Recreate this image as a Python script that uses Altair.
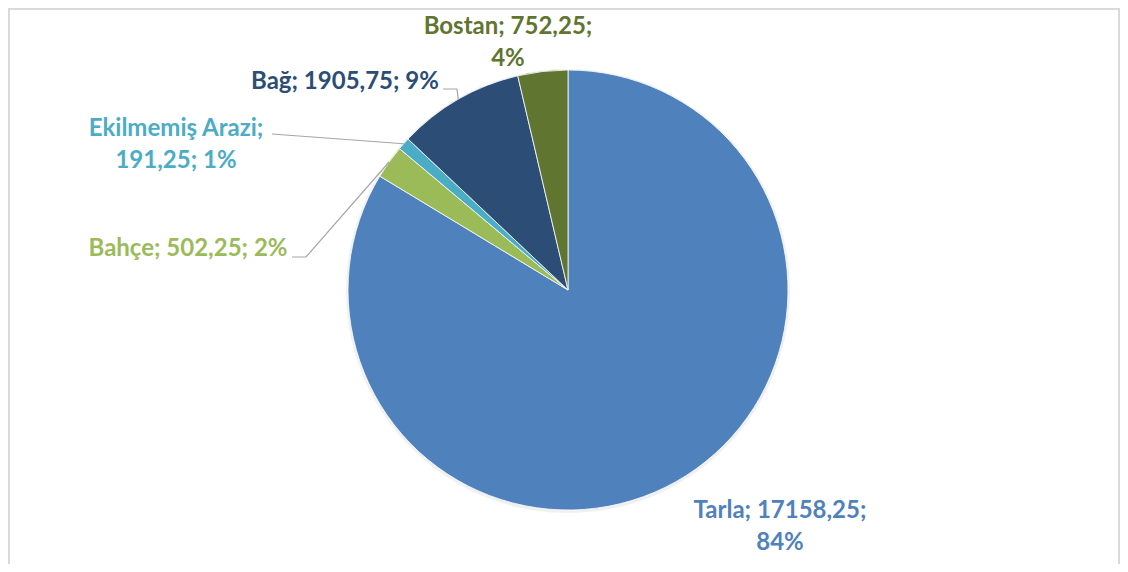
import math
import altair as alt
import pandas as pd

# ---- data ----
categories = ["Tarla", "Bahçe", "Ekilmemiş Arazi", "Bağ", "Bostan"]
values = [17158.25, 502.25, 191.25, 1905.75, 752.25]
colors = ["#4F81BD", "#9BBB59", "#4BACC6", "#2C4D75", "#5F7530"]

# ---- layout (chart pixel coordinates) ----
W, H = 1112, 556
CX, CY, R = 560, 282, 220
label_break = ["pct", "none", "name", "none", "pct"]
# position of the first text line's centre
label_pos = {
    "Tarla": (772, 503),
    "Bahçe": (180, 241),
    "Ekilmemiş Arazi": (168, 121),
    "Bağ": (337, 74),
    "Bostan": (500, 19),
}
leader_start = {
    "Bahçe": [(284, 249), (298, 249)],
    "Ekilmemiş Arazi": [(264, 126)],
    "Bağ": [(435, 81), (449, 81)],
}

total = sum(values)


def fmt(v):
    return f"{v:.2f}".replace(".", ",")


labels = []
for c, v, b in zip(categories, values, label_break):
    pct = f"{round(v / total * 100)}%"
    if b == "pct":
        labels.append(f"{c}; {fmt(v)};\n{pct}")
    elif b == "name":
        labels.append(f"{c};\n{fmt(v)}; {pct}")
    else:
        labels.append(f"{c}; {fmt(v)}; {pct}")

df = pd.DataFrame({
    "category": categories,
    "value": values,
    "idx": list(range(len(categories))),
    "label": labels,
    "lx": [label_pos[c][0] for c in categories],
    "ly": [label_pos[c][1] for c in categories],
})

rows = []
cum = 0.0
for c, v in zip(categories, values):
    mid = (cum + v / 2) / total * 2 * math.pi
    cum += v
    if c in leader_start:
        pts = list(leader_start[c]) + [(CX + R * math.sin(mid), CY - R * math.cos(mid))]
        for i, (x, y) in enumerate(pts):
            rows.append({"category": c, "pt": i, "x": x, "y": y})
lines_df = pd.DataFrame(rows)

color_scale = alt.Scale(domain=categories, range=colors)

shadow = alt.Chart(df).mark_arc(outerRadius=R + 2, color="#000000", opacity=0.06).encode(
    theta=alt.Theta("value:Q", stack=True),
    order=alt.Order("idx:Q"),
    x=alt.value(CX), y=alt.value(CY + 1),
)

pie = alt.Chart(df).mark_arc(outerRadius=R, stroke="white", strokeWidth=0.8).encode(
    theta=alt.Theta("value:Q", stack=True),
    color=alt.Color("category:N", scale=color_scale, legend=None),
    order=alt.Order("idx:Q"),
    x=alt.value(CX), y=alt.value(CY),
)

leaders = alt.Chart(lines_df).mark_line(color="#A6A6A6", strokeWidth=1.2).encode(
    x=alt.X("x:Q", scale=None),
    y=alt.Y("y:Q", scale=None),
    detail="category:N",
    order="pt:Q",
)

text = alt.Chart(df).mark_text(
    font="Lato", fontWeight="bold", fontSize=24, lineBreak="\n", lineHeight=32,
    align="center", baseline="middle",
).encode(
    x=alt.X("lx:Q", scale=None),
    y=alt.Y("ly:Q", scale=None),
    text="label:N",
    color=alt.Color("category:N", scale=color_scale, legend=None),
)

frame_left = alt.Chart(df).mark_rule(color="#D9D9D9", strokeWidth=1.5).encode(
    x=alt.value(0.75), y=alt.value(0), y2=alt.value(H))
frame_top = alt.Chart(df).mark_rule(color="#D9D9D9", strokeWidth=1.5).encode(
    x=alt.value(0), x2=alt.value(W), y=alt.value(0.75))
frame_right = alt.Chart(df).mark_rule(color="#D9D9D9", strokeWidth=1.5).encode(
    x=alt.value(W - 0.75), y=alt.value(0), y2=alt.value(H))

chart = alt.layer(frame_left, frame_top, frame_right, shadow, pie, leaders, text).properties(
    width=W, height=H,
    autosize=alt.AutoSizeParams(type="none"),
    padding=0,
).configure_view(stroke=None).configure(background="white")

chart.save("out.html", embed_options={"renderer": "svg", "actions": False})
